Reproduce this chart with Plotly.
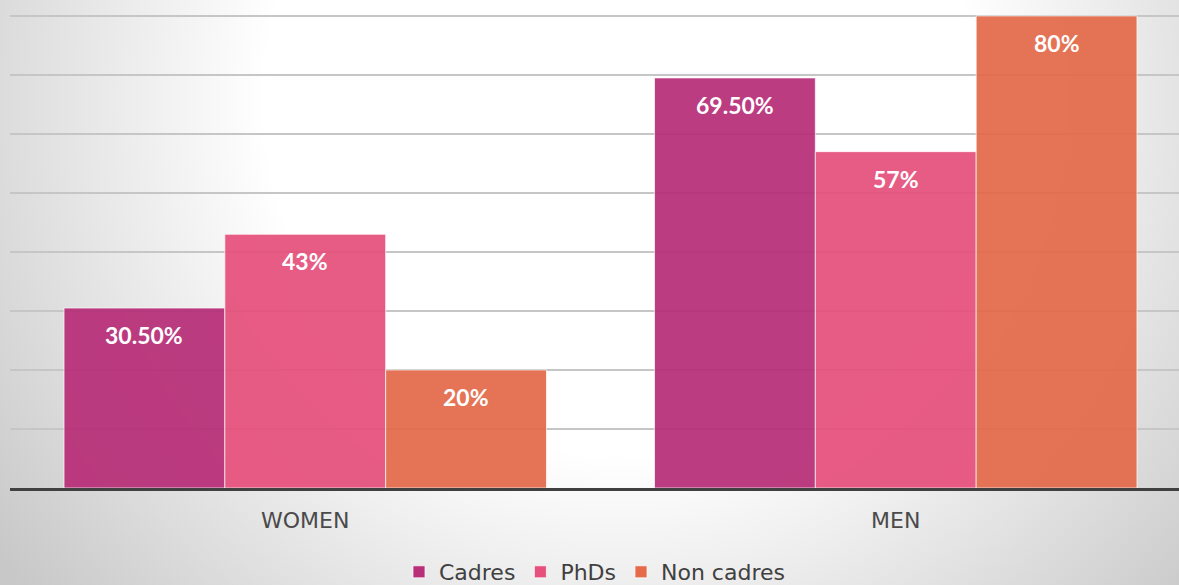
import base64
import plotly.graph_objects as go

categories = ["WOMEN", "MEN"]
series_names = ["Cadres", "PhDs", "Non cadres"]
cadres = [30.5, 69.5]
phds = [43, 57]
non_cadres = [20, 80]
cadres_labels = ["30.50%", "69.50%"]
phds_labels = ["43%", "57%"]
non_cadres_labels = ["20%", "80%"]
colors = ["#B82E78", "#E6507C", "#E46A4A"]

values = [cadres, phds, non_cadres]
labels = [cadres_labels, phds_labels, non_cadres_labels]

W, H = 1179, 585
ml, mr, mt, mb = 10, 0, 13, 97
pw, ph = W - ml - mr, H - mt - mb
bargap = 0.183
NUMFONT = "Lato, 'Open Sans', sans-serif"
TXTFONT = "'DejaVu Sans', Lato, sans-serif"

fig = go.Figure()
for name, vals, col in zip(series_names, values, colors):
    fig.add_trace(go.Bar(
        name=name, x=categories, y=vals,
        marker=dict(color=col, opacity=0.93, line=dict(color="rgba(255,255,255,0.7)", width=1)),
        hoverinfo="skip",
    ))

# value labels near the top inside each bar
bw = (1 - bargap) / len(series_names)
for k, (vals, labs) in enumerate(zip(values, labels)):
    off = (k - (len(series_names) - 1) / 2) * bw
    for i, (v, lab) in enumerate(zip(vals, labs)):
        fig.add_annotation(x=i + off, y=v, xref="x", yref="y", text=lab,
                           showarrow=False, yanchor="middle", yshift=-27,
                           font=dict(family=NUMFONT, size=23, color="white", weight="bold"))

cx, cy = 620, 100
svg = f'''<svg xmlns="http://www.w3.org/2000/svg" width="{W}" height="{H}" viewBox="0 0 {W} {H}">
<defs><radialGradient id="g" gradientUnits="userSpaceOnUse" cx="{cx}" cy="{cy}" r="770">
<stop offset="0" stop-color="#ffffff"/><stop offset="0.46" stop-color="#ffffff"/><stop offset="1" stop-color="#c8c8c8"/></radialGradient></defs>
<rect width="{W}" height="{H}" fill="url(#g)"/></svg>'''
uri = "data:image/svg+xml;base64," + base64.b64encode(svg.encode()).decode()

fig.update_layout(
    width=W, height=H,
    margin=dict(l=ml, r=mr, t=mt, b=mb, pad=0, autoexpand=False),
    barmode="group", bargap=bargap, bargroupgap=0,
    paper_bgcolor="#e6e6e6", plot_bgcolor="rgba(0,0,0,0)",
    images=[dict(source=uri, xref="paper", yref="paper",
                 x=-ml / pw, y=1 + mt / ph, sizex=W / pw, sizey=H / ph,
                 xanchor="left", yanchor="top", sizing="stretch", layer="below")],
    xaxis=dict(range=[-0.5, -0.5 + pw / ((pw + 12) / 2)], showgrid=False, automargin=False,
               showline=True, linecolor="#404040", linewidth=3,
               ticks="", tickfont=dict(family=TXTFONT, size=22, color="#4a4a4a"),
               ticklabelstandoff=11),
    yaxis=dict(range=[0, 80.5], dtick=10, showgrid=True, gridcolor="#c6c6c6", gridwidth=1.5,
               showticklabels=False, zeroline=False, showline=False, automargin=False),
    legend=dict(orientation="h", x=0.5, xanchor="center", y=-84 / ph, yanchor="middle",
                font=dict(family=TXTFONT, size=22, color="#404040"),
                bgcolor="rgba(0,0,0,0)", itemwidth=30, tracegroupgap=0),
    showlegend=True,
)
fig.write_html("out.html", config={"displayModeBar": False},
               post_script="document.body.style.margin='0px';document.body.style.overflow='hidden';")
